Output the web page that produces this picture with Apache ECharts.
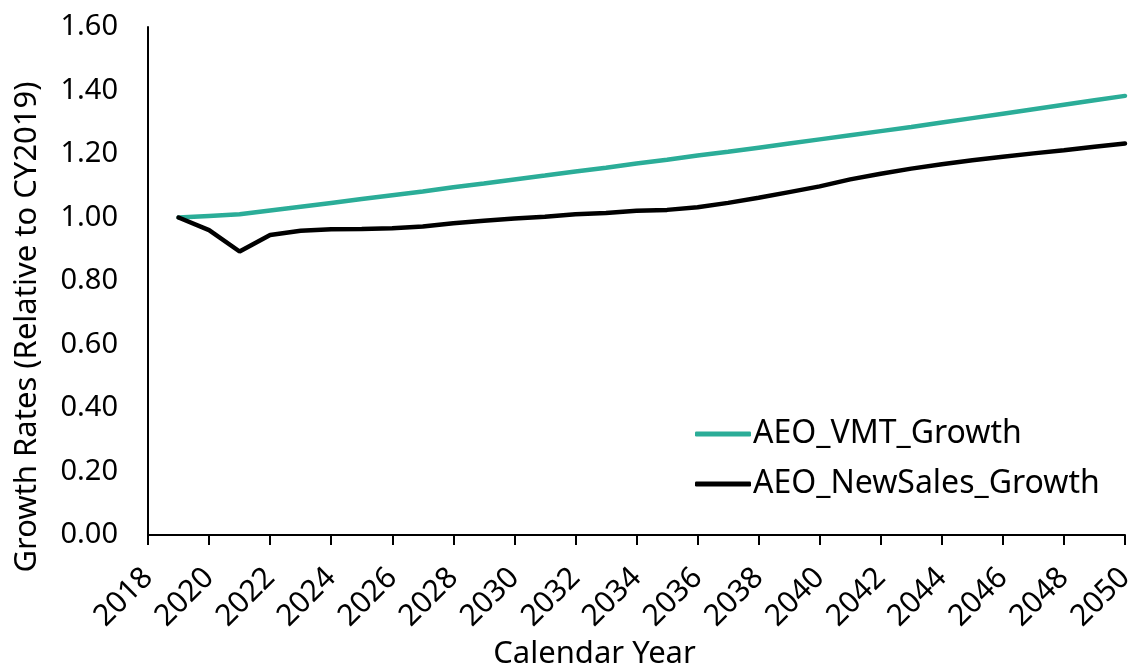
<!DOCTYPE html>
<html>
<head>
<meta charset="utf-8">
<script src="https://cdn.jsdelivr.net/npm/echarts@6/dist/echarts.min.js"></script>
<style>
html,body{margin:0;padding:0;background:#fff;}
#chart{width:1131px;height:664px;}
</style>
</head>
<body>
<div id="chart"></div>
<script>
const years = [2019,2020,2021,2022,2023,2024,2025,2026,2027,2028,2029,2030,2031,2032,2033,2034,2035,2036,2037,2038,2039,2040,2041,2042,2043,2044,2045,2046,2047,2048,2049,2050];
const vmtGrowth = [1.000,1.005,1.010,1.022,1.034,1.046,1.058,1.070,1.082,1.095,1.107,1.120,1.132,1.145,1.157,1.170,1.182,1.195,1.207,1.220,1.233,1.246,1.259,1.272,1.285,1.299,1.313,1.327,1.341,1.355,1.369,1.383];
const newSalesGrowth = [1.000,0.960,0.893,0.945,0.958,0.963,0.964,0.966,0.972,0.982,0.990,0.997,1.002,1.010,1.014,1.021,1.024,1.032,1.046,1.062,1.080,1.098,1.120,1.138,1.154,1.168,1.180,1.191,1.202,1.212,1.223,1.233];
const seriesNames = ['AEO_VMT_Growth','AEO_NewSales_Growth'];
const xTitle = 'Calendar Year';
const yTitle = 'Growth Rates (Relative to CY2019)';

const FONT = 'Noto Sans';
const chart = echarts.init(document.getElementById('chart'));
chart.setOption({
  animation: false,
  backgroundColor: '#ffffff',
  textStyle: {fontFamily: FONT},
  grid: {left: 148, right: 6, top: 27, bottom: 129, containLabel: false, outerBoundsMode: 'none'},
  legend: {
    orient: 'vertical', left: 690, top: 413, itemWidth: 56, itemHeight: 5, itemGap: 18,
    icon: 'roundRect',
    textStyle: {fontFamily: FONT, fontSize: 32, color: '#000', padding: [0,0,0,-3]},
    data: seriesNames
  },
  xAxis: {
    type: 'value', min: 2018, max: 2050, interval: 2,
    name: xTitle, nameLocation: 'middle', nameGap: 99,
    nameTextStyle: {fontFamily: FONT, fontSize: 31, color: '#000', padding: [0, 84, 0, 0]},
    axisLine: {show: true, lineStyle: {color: '#000', width: 2}},
    axisTick: {show: true, length: 10, lineStyle: {color: '#000', width: 2}},
    axisLabel: {rotate: 45, margin: 38, verticalAlign: 'middle', fontFamily: FONT, fontSize: 30, color: '#000', formatter: v => String(v)},
    splitLine: {show: false}
  },
  yAxis: {
    type: 'value', min: 0, max: 1.6, interval: 0.2,
    name: yTitle, nameLocation: 'middle', nameGap: 105,
    nameTextStyle: {fontFamily: FONT, fontSize: 31, color: '#000', padding: [0, 92, 0, 0]},
    axisLine: {show: true, lineStyle: {color: '#000', width: 2}},
    axisTick: {show: false},
    axisLabel: {margin: 30, fontFamily: FONT, fontSize: 29, color: '#000', formatter: v => v.toFixed(2)},
    splitLine: {show: false}
  },
  series: [
    {name: seriesNames[0], type: 'line', symbol: 'none', data: years.map((y,i)=>[y, vmtGrowth[i]]),
     lineStyle: {color: '#2bad98', width: 4.5, cap: 'round'}, itemStyle: {color: '#2bad98'}},
    {name: seriesNames[1], type: 'line', symbol: 'none', data: years.map((y,i)=>[y, newSalesGrowth[i]]),
     lineStyle: {color: '#000', width: 4.5, cap: 'round'}, itemStyle: {color: '#000'}}
  ]
});
</script>
</body>
</html>
